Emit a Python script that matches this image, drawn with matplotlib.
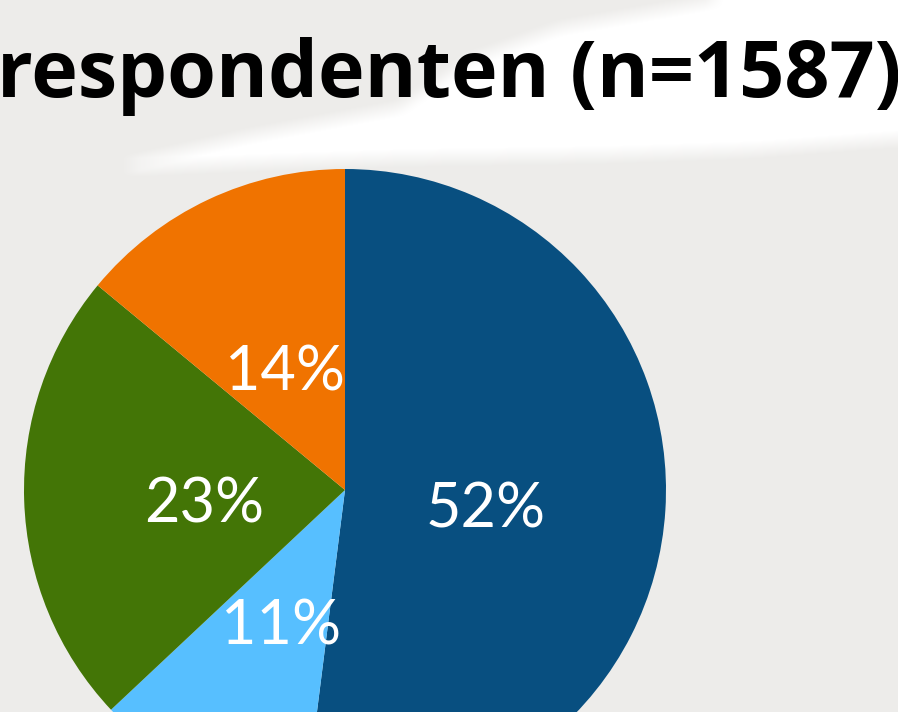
import numpy as np
import matplotlib
matplotlib.use("Agg")
import matplotlib.pyplot as plt
from matplotlib.path import Path

# data
labels = ["52%", "11%", "23%", "14%"]
shares = [52, 11, 23, 14]
colors = ["#084F80", "#57BFFF", "#437506", "#F07300"]
title = "respondenten (n=1587)"

W, H = 898, 712
bg = "#EDECEA"

fig = plt.figure(figsize=(W / 100, H / 100), dpi=100, facecolor=bg)

# white brush stroke behind the title (pixel coords, y from top)
bg_ax = fig.add_axes([0, 0, 1, 1], zorder=0)
bg_ax.set_xlim(0, W)
bg_ax.set_ylim(H, 0)
bg_ax.axis("off")
stroke = Path([(130, 163), (250, 136), (400, 108), (470, 60), (560, 28),
               (700, 4), (800, -20), (910, -20), (910, 138), (750, 150),
               (600, 155), (400, 158), (250, 163), (130, 168)])
yy, xx = np.mgrid[0:H, 0:W]
inside = stroke.contains_points(np.c_[xx.ravel() + 0.5, yy.ravel() + 0.5])
mask = inside.reshape(H, W).astype(float)


def box_blur(a, r):
    # simple separable box blur
    k = np.ones(2 * r + 1) / (2 * r + 1)
    a = np.apply_along_axis(lambda v: np.convolve(np.pad(v, r, mode="edge"), k, "valid"), 1, a)
    a = np.apply_along_axis(lambda v: np.convolve(np.pad(v, r, mode="edge"), k, "valid"), 0, a)
    return a


mask = box_blur(mask, 9)
rgba = np.ones((H, W, 4))
rgba[..., 3] = np.clip(mask * 1.05, 0, 1)
bg_ax.imshow(rgba, extent=(0, W, H, 0), interpolation="bilinear")

# pie, centre at (345, 490) px, radius 321 px
cx, cy, r = 345, 490, 321
ax = fig.add_axes([(cx - r) / W, (H - cy - r) / H, 2 * r / W, 2 * r / H], zorder=1)
wedges, texts, autotexts = ax.pie(
    shares, colors=colors, startangle=90, counterclock=False,
    autopct="%d%%", pctdistance=0.44, radius=1,
    wedgeprops=dict(linewidth=0),
    textprops=dict(color="white", fontsize=44, family="Lato"),
)
for t, lab in zip(autotexts, labels):
    t.set_text(lab)
    x, y = t.get_position()
    t.set_position((x, y - 11 / r))
ax.set_xlim(-1, 1)
ax.set_ylim(-1, 1)
ax.set_aspect("equal")
ax.axis("off")

fig.text(-0.003, (H - 97) / H, title, ha="left", va="baseline",
         fontsize=57, fontweight="bold", family="Open Sans", color="black",
         zorder=3)

fig.savefig("out.png", dpi=100, facecolor=bg)
